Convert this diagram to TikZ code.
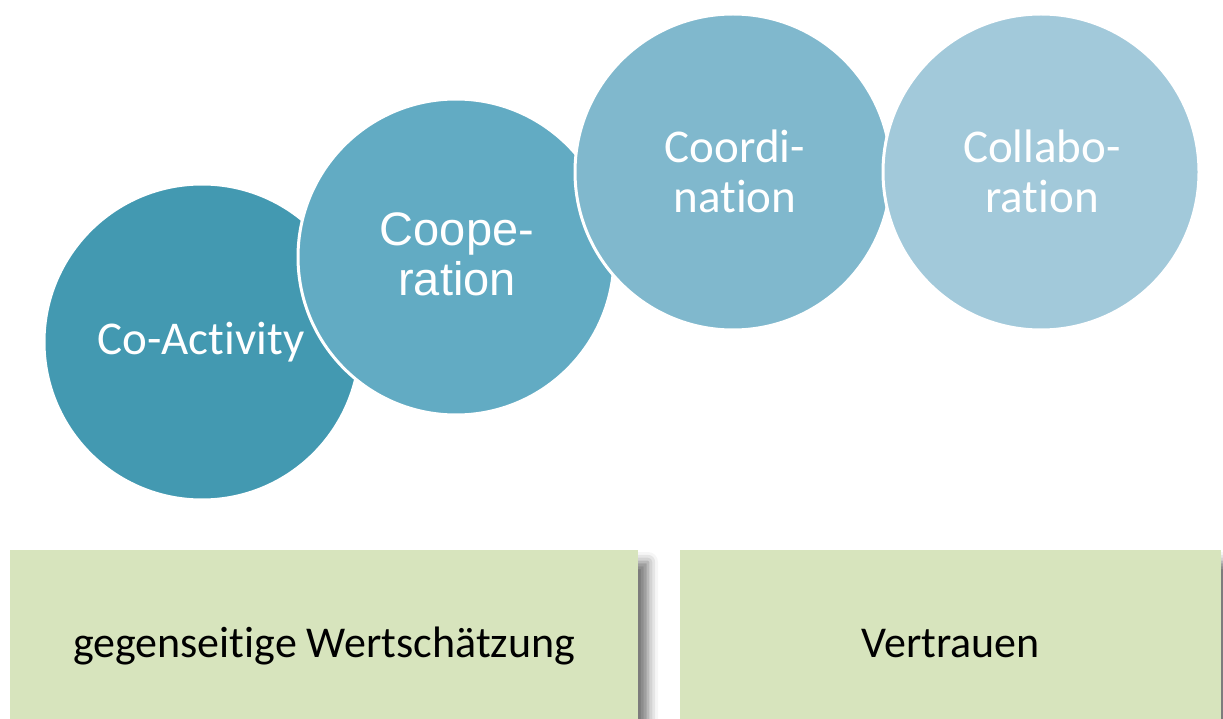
\documentclass[tikz,border=0pt]{standalone}
\usepackage{fontspec}
\setmainfont[Ligatures=NoCommon]{Carlito}
\newfontfamily\arialfont{Liberation Sans}
\usetikzlibrary{shadows.blur}

\definecolor{stageA}{HTML}{4399B1}
\definecolor{stageB}{HTML}{62ABC3}
\definecolor{stageC}{HTML}{80B8CD}
\definecolor{stageD}{HTML}{A2C9DA}
\definecolor{boxgreen}{HTML}{D7E4BD}

\begin{document}
\begin{tikzpicture}[x=1pt,y=-1pt,
  bubble/.style={circle, minimum size=316pt, inner sep=0pt, draw=white,
    line width=3pt},
  bubbletext/.style={text=white, align=center,
    font=\fontsize{47}{50}\selectfont},
  basebox/.style={rectangle, fill=boxgreen, inner sep=0pt,
    minimum height=169pt, text=black, text height=48pt, text depth=3pt,
    font=\fontsize{44}{50}\selectfont,
    blur shadow={shadow xshift=10pt, shadow yshift=-12pt,
      shadow blur radius=10pt, shadow opacity=55}}]
  \useasboundingbox (0,0) rectangle (1223,719);

  % the four stages, each later one lying over the previous
  \node[bubble, fill=stageA] (coact) at (202,342) {};
  \node[bubbletext] (coacttxt) at (201,342) {Co-Activity};
  \node[bubble, fill=stageB] (coop) at (456,257) {};
  \node[bubbletext, font=\arialfont\fontsize{47}{50}\selectfont] (cooptxt) at (457,254) {Coope-\\ration};
  \node[bubble, fill=stageC] (coord) at (733,172) {};
  \node[bubbletext] (coordtxt) at (735,171) {Coordi-\\nation};
  \node[bubble, fill=stageD] (collab) at (1041,172) {};
  \node[bubbletext] (collabtxt) at (1042,171) {Collabo-\\ration};

  % foundations
  \node[basebox, minimum width=628pt] (respect) at (324,634.5) {gegenseitige Wertschätzung};
  \node[basebox, minimum width=541pt] (trust) at (950.5,634.5) {Vertrauen};
\end{tikzpicture}
\end{document}
